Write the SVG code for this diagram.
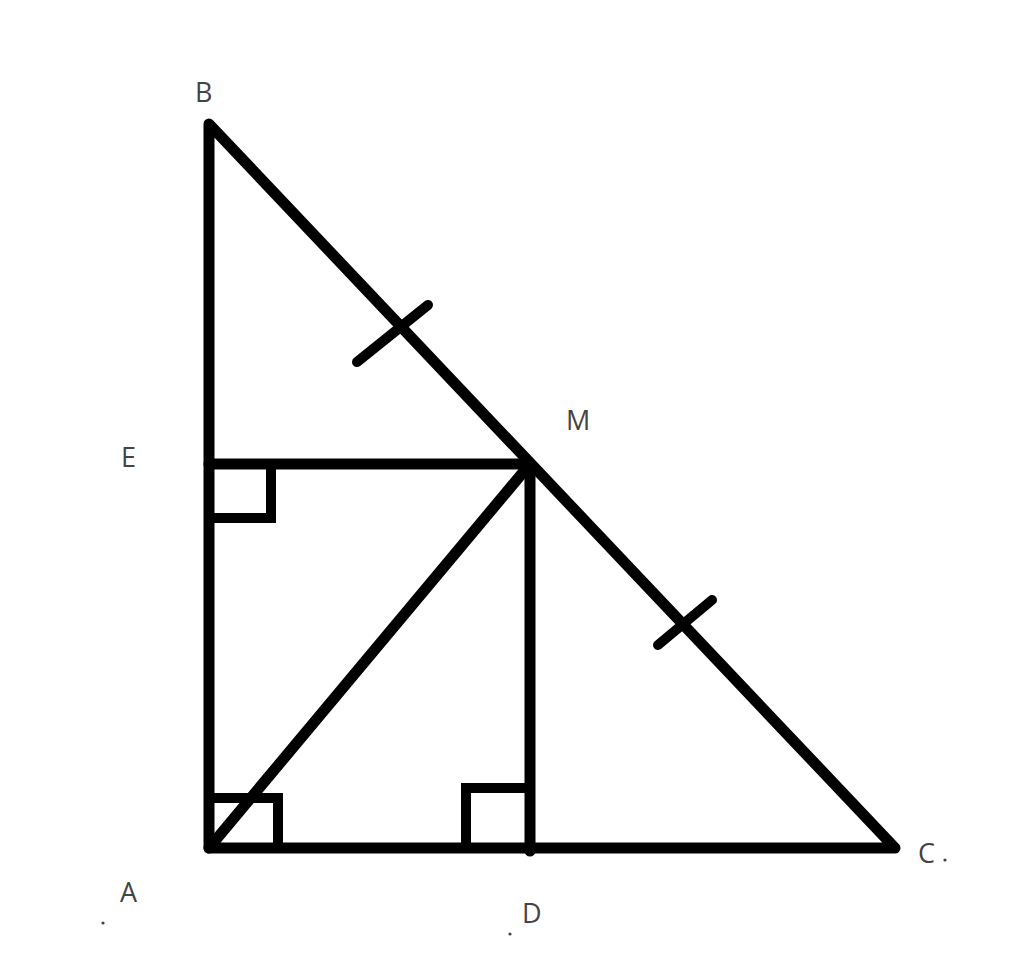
<svg xmlns="http://www.w3.org/2000/svg" width="1024" height="964" viewBox="0 0 1024 964">
<style>
.ln{stroke:#000;stroke-width:11;fill:none;stroke-linecap:round;stroke-linejoin:round}
.sq{stroke:#000;stroke-width:10;fill:none;stroke-linecap:square;stroke-linejoin:miter}
.tk{stroke:#000;stroke-width:10;fill:none;stroke-linecap:round}
.lb{font-family:"Open Sans","Liberation Sans",sans-serif;font-size:27px;fill:#444}
.dt{fill:#444}
</style>
<rect width="1024" height="964" fill="#fff"/>
<g id="connectors">
<polyline class="ln" points="895,848 209,848 209,124 895,848"/>
<line class="ln" x1="209" y1="464" x2="530" y2="464"/>
<line class="ln" x1="530" y1="464" x2="530" y2="851"/>
<line class="ln" x1="209" y1="848" x2="530" y2="464"/>
<polyline class="sq" points="209,518 271,518 271,464"/>
<polyline class="sq" points="209,798 278,798 278,848"/>
<polyline class="sq" points="466,848 466,788 530,788"/>
<line class="tk" x1="357" y1="362" x2="428" y2="305"/>
<line class="tk" x1="658" y1="645" x2="712" y2="600"/>
</g>
<g id="B"><text class="lb" x="195" y="102">B</text></g>
<g id="E"><text class="lb" x="121" y="467">E</text></g>
<g id="M"><text class="lb" x="566" y="430">M</text></g>
<g id="A"><text class="lb" x="120" y="902">A</text><circle class="dt" cx="103" cy="923" r="1.6"/></g>
<g id="D"><text class="lb" x="522" y="923">D</text><circle class="dt" cx="510" cy="934" r="1.6"/></g>
<g id="C"><text class="lb" x="918" y="863">C</text><circle class="dt" cx="945" cy="860" r="1.6"/></g>
</svg>
